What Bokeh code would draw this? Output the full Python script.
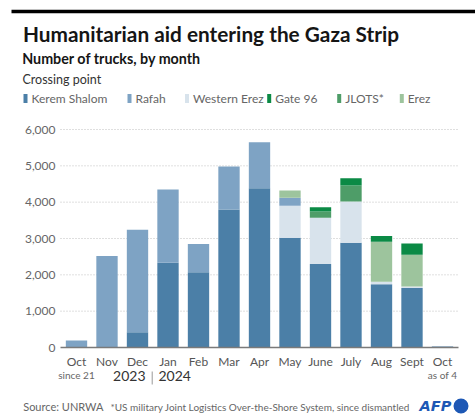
from bokeh.plotting import figure
from bokeh.models import (Label, BoxAnnotation, FixedTicker, NumeralTickFormatter, Range1d,
                          ColumnDataSource)
from bokeh.embed import file_html
from bokeh.resources import INLINE

# ---- data ----
months = ["Oct", "Nov", "Dec", "Jan", "Feb", "Mar", "Apr", "May", "June", "July", "Aug", "Sept", "Oct"]
kerem_shalom = [0, 0, 420, 2330, 2070, 3800, 4380, 3020, 2300, 2880, 1740, 1640, 30]
western_erez = [0, 0, 0, 0, 0, 0, 0, 880, 1270, 1140, 70, 40, 0]
rafah = [190, 2520, 2820, 2020, 780, 1180, 1270, 220, 0, 0, 0, 0, 0]
erez = [0, 0, 0, 0, 0, 0, 0, 200, 0, 0, 1100, 870, 0]
jlots = [0, 0, 0, 0, 0, 0, 0, 0, 170, 440, 0, 0, 0]
gate96 = [0, 0, 0, 0, 0, 0, 0, 0, 120, 200, 160, 310, 0]
y_ticks = [0, 1000, 2000, 3000, 4000, 5000, 6000]

series = ["kerem_shalom", "western_erez", "rafah", "erez", "jlots", "gate96"]
colors = ["#4b7fa7", "#d8e3ec", "#7ea3c4", "#9dc49d", "#4e9d68", "#0b8a45"]
legend_names = ["Kerem Shalom", "Rafah", "Western Erez", "Gate 96", "JLOTS*", "Erez"]
legend_colors = ["#4b7fa7", "#7ea3c4", "#d8e3ec", "#0b8a45", "#4e9d68", "#9dc49d"]

src = ColumnDataSource(dict(x=list(range(len(months))), kerem_shalom=kerem_shalom,
                            western_erez=western_erez, rafah=rafah, erez=erez,
                            jlots=jlots, gate96=gate96))

FONT = "Lato"
W, H = 475, 416
# plot-area layout (pixels on the canvas)
PX_LEFT, PX_RIGHT = 60, 458          # plot area horizontal extent
PX_FIRST, PX_STEP = 76, 30.5         # first bar centre and bar spacing
PX_ZERO, PX_PER_K = 347, 36.333      # baseline y and pixels per 1000 trucks

x_range = Range1d(-PX_FIRST / PX_STEP, (W - PX_FIRST) / PX_STEP)
y_range = Range1d(-(H - PX_ZERO) / PX_PER_K * 1000, PX_ZERO / PX_PER_K * 1000)
area_x0 = (PX_LEFT - PX_FIRST) / PX_STEP
area_x1 = (PX_RIGHT - PX_FIRST) / PX_STEP


def dx(cx):
    return (cx - PX_FIRST) / PX_STEP


def dy(cy):
    return (PX_ZERO - cy) / PX_PER_K * 1000


p = figure(width=W, height=H, output_backend="svg", toolbar_location=None,
           x_range=x_range, y_range=y_range, min_border=0)
p.outline_line_color = None
p.grid.grid_line_color = None
p.title.visible = False

# thick black rule across the top of the graphic
p.quad(left=[dx(11)], right=[dx(474.5)], top=[dy(9.3)], bottom=[dy(12.8)],
       color="black", line_color=None)

# dotted gridlines limited to the plot area
grid_vals = [v for v in y_ticks if v > 0]
p.segment(x0=[area_x0] * len(grid_vals), x1=[area_x1] * len(grid_vals), y0=grid_vals, y1=grid_vals,
          line_color="#bfbfbf", line_width=1, line_dash="1 2")

p.vbar_stack(series, x="x", width=0.7, color=colors, line_color=None, source=src)

# axes drawn inside the canvas at fixed locations
p.yaxis.fixed_location = area_x0
p.yaxis.ticker = FixedTicker(ticks=y_ticks)
p.yaxis.formatter = NumeralTickFormatter(format="0,0")
p.yaxis.axis_line_color = None
p.yaxis.major_tick_line_color = None
p.yaxis.minor_tick_line_color = None
p.yaxis.major_tick_out = 0
p.yaxis.major_tick_in = 0
p.yaxis.major_label_text_font = FONT
p.yaxis.major_label_text_font_size = "12px"
p.yaxis.major_label_text_color = "#666666"
p.yaxis.major_label_standoff = 5

p.xaxis.fixed_location = 0
p.xaxis.bounds = (area_x0, area_x1)
p.xaxis.ticker = FixedTicker(ticks=list(range(len(months))))
p.xaxis.major_label_overrides = {i: m for i, m in enumerate(months)}
p.xaxis.axis_line_color = "#7a7a7a"
p.xaxis.axis_line_width = 1.5
p.xaxis.major_tick_line_color = None
p.xaxis.minor_tick_line_color = None
p.xaxis.major_tick_out = 0
p.xaxis.major_tick_in = 0
p.xaxis.major_label_text_font = FONT
p.xaxis.major_label_text_font_size = "12px"
p.xaxis.major_label_text_color = "#555555"
p.xaxis.major_label_standoff = 6

BASE_SHIFT = 0.4  # Bokeh's alphabetic anchor sits ~0.4em above the drawn baseline


def label(text, x, cy, size, color="#222222", style="normal", align="left", font=FONT,
          x_units="screen"):
    cy_anchor = cy - BASE_SHIFT * size
    p.add_layout(Label(x=x, y=dy(cy_anchor), x_units=x_units, y_units="data",
                       text=text, text_font=font, text_font_size=f"{size}px", text_color=color,
                       text_font_style=style, text_align=align, text_baseline="alphabetic"))


def box(l, r, t, b, color):
    p.add_layout(BoxAnnotation(left=dx(l), right=dx(r), top=dy(t), bottom=dy(b),
                               fill_color=color, fill_alpha=1, line_color=None))


# header
label("Humanitarian aid entering the Gaza Strip", 22.5, 41.7, 20.8, "#151515", "bold")
label("Number of trucks, by month", 21.7, 64, 14.3, "#151515", "bold")
label("Crossing point", 22, 84.3, 12.5, "#333333")
legend_x = [23, 127, 184.5, 266.7, 336.7, 399.3]
for name, col, lx in zip(legend_names, legend_colors, legend_x):
    box(lx, lx + 4, 93.5, 102.5, col)
    label(name, lx + 8, 102.3, 12, "#666666")

# second line of x labels and years
label("since 21", 0, 378.3, 10, "#666666", align="center", x_units="data")
label("as of 4", len(months) - 1, 378.3, 10, "#666666", align="center", x_units="data")
label("2023", 145, 381.5, 14, "#333333", align="right")
box(151.2, 152.2, 371, 384, "#9a9a9a")
label("2024", 158, 381.5, 14, "#333333", align="left")

# footer
label("Source: UNRWA", 22.7, 410.5, 11, "#666666")
label("*US military Joint Logistics Over-the-Shore System, since dismantled", 110, 410.5, 10, "#666666")
label("AFP", 419, 411, 14.5, "#1d58b5", "bold italic", font="DejaVu Sans")
p.scatter(x=[dx(460.5)], y=[dy(405.5)], size=15, marker="circle", color="#1d58b5", line_color=None)

open("out.html", "w").write(file_html(p, INLINE))
